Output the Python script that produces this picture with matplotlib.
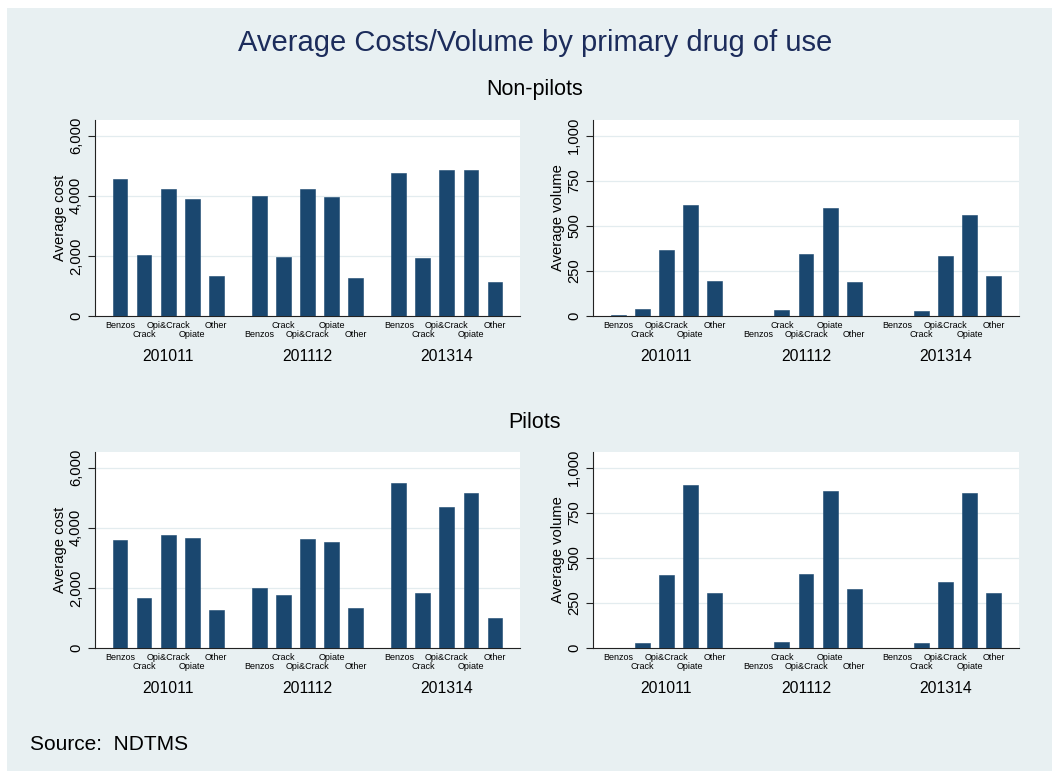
import matplotlib
matplotlib.use("Agg")
import matplotlib.pyplot as plt
from matplotlib.patches import Rectangle
from matplotlib.ticker import FixedLocator, FixedFormatter

plt.rcParams['font.family'] = ['Liberation Sans', 'DejaVu Sans']

# ---- data ---------------------------------------------------------------
categories = ['Benzos', 'Crack', 'Opi&Crack', 'Opiate', 'Other']
years = ['201011', '201112', '201314']

nonpilot_cost = [[4550, 2040, 4240, 3910, 1335],
                 [3995, 1950, 4230, 3960, 1280],
                 [4765, 1915, 4845, 4855, 1125]]
nonpilot_volume = [[3, 39, 364, 618, 195],
                   [2, 33, 345, 597, 191],
                   [2, 26, 330, 562, 224]]
pilot_cost = [[3580, 1650, 3760, 3650, 1275],
              [1995, 1750, 3615, 3525, 1320],
              [5490, 1820, 4690, 5155, 985]]
pilot_volume = [[1, 28, 403, 904, 303],
                [1, 31, 409, 872, 327],
                [1, 28, 366, 861, 303]]

cost_ticks = [0, 2000, 4000, 6000]
volume_ticks = [0, 250, 500, 750, 1000]

# ---- style --------------------------------------------------------------
W, H = 1052, 771
BG = '#E8F0F2'
BAR = '#1A476F'
GRID = '#E3ECEF'
TITLE_C = '#1C2C5B'

fig = plt.figure(figsize=(W / 100, H / 100), dpi=100)
fig.patch.set_facecolor('white')
fig.add_artist(Rectangle((7 / W, 0), 1 - 7 / W, 1 - 8 / H,
                         transform=fig.transFigure, facecolor=BG,
                         edgecolor='none', zorder=-10))

GROUP_STEP = 5.8
BAR_W = 0.62


def panel(rect, values, ticks, ymax, ylabel):
    ax = fig.add_axes(rect)
    ax.set_facecolor('white')
    for s in ('top', 'right'):
        ax.spines[s].set_visible(False)
    for s in ('left', 'bottom'):
        ax.spines[s].set_color('#222222')
        ax.spines[s].set_linewidth(0.8)

    n = len(categories)
    k = 0
    for g, year in enumerate(years):
        xs = [g * GROUP_STEP + i for i in range(n)]
        ax.bar(xs, values[g], width=BAR_W, color=BAR, edgecolor=BAR,
               linewidth=0.4, zorder=3)
        for i, x in enumerate(xs):
            off = -7 if k % 2 == 0 else -13.5
            ax.annotate(categories[i], xy=(x, 0),
                        xycoords=('data', 'axes fraction'),
                        xytext=(0, off), textcoords='offset points',
                        ha='center', va='center', fontsize=6.5,
                        color='black', annotation_clip=False)
            k += 1
        ax.annotate(year, xy=(xs[2], 0), xycoords=('data', 'axes fraction'),
                    xytext=(0, -29.3), textcoords='offset points',
                    ha='center', va='center', fontsize=11.3, color='black',
                    annotation_clip=False)

    ax.set_xlim(-1.04, (len(years) - 1) * GROUP_STEP + n - 1 + 1.04)
    ax.set_ylim(0, ymax)
    ax.set_xticks([])
    ax.yaxis.set_major_locator(FixedLocator(ticks))
    ax.yaxis.set_major_formatter(FixedFormatter([f"{t:,}" for t in ticks]))
    ax.tick_params(axis='y', length=5, width=0.8, color='#222222', pad=3.6,
                   labelsize=10.6, labelrotation=90)
    for lab in ax.get_yticklabels():
        lab.set_va('center')
    for t in ticks[1:]:
        ax.axhline(t, color=GRID, linewidth=0.9, zorder=1)
    ax.set_ylabel(ylabel, fontsize=10.6, color='black')
    ax.yaxis.set_label_coords(-0.066, 0.5)
    return ax


LX, RX = 95 / W, 593 / W
PW_L, PW_R = 425 / W, 426 / W
PH = 196 / H
TOP_B = 1 - 316 / H
BOT_B = 1 - 648 / H

panel([LX, TOP_B, PW_L, PH], nonpilot_cost, cost_ticks, 6524, 'Average cost')
panel([RX, TOP_B, PW_R, PH], nonpilot_volume, volume_ticks, 1087, 'Average volume')
panel([LX, BOT_B, PW_L, PH], pilot_cost, cost_ticks, 6524, 'Average cost')
panel([RX, BOT_B, PW_R, PH], pilot_volume, volume_ticks, 1087, 'Average volume')

fig.text(535 / W, 1 - 43 / H, 'Average Costs/Volume by primary drug of use',
         ha='center', va='center', fontsize=21, color=TITLE_C)
fig.text(535 / W, 1 - 89 / H, 'Non-pilots', ha='center', va='center',
         fontsize=15.5, color='black')
fig.text(535 / W, 1 - 422 / H, 'Pilots', ha='center', va='center',
         fontsize=15.5, color='black')
fig.text(30 / W, 1 - 744 / H, 'Source:  NDTMS', ha='left', va='center',
         fontsize=15, color='black')

fig.savefig('out.png', dpi=100, facecolor=fig.get_facecolor())
